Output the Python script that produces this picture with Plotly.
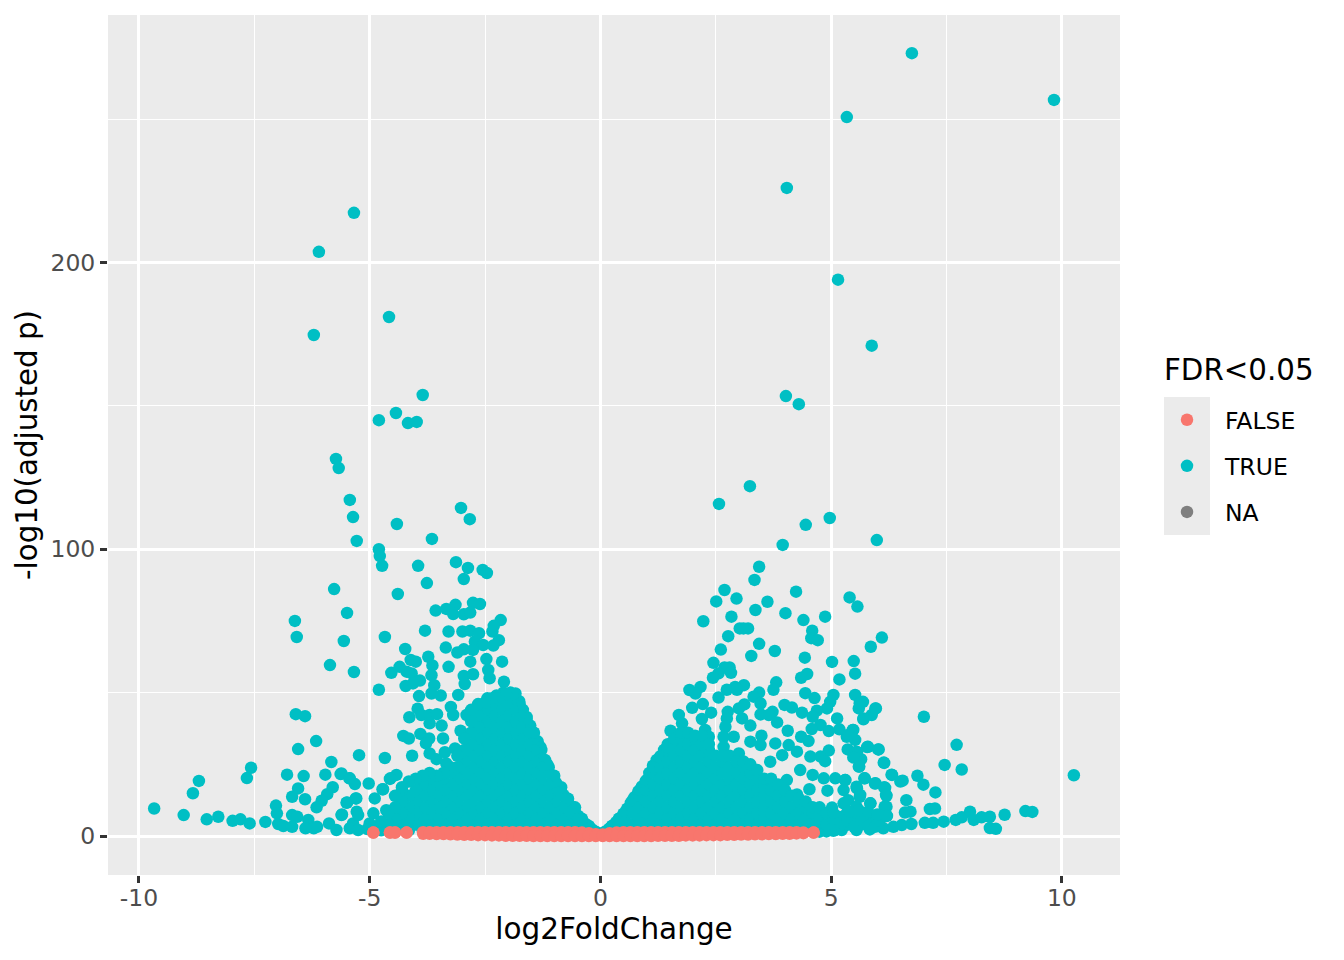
import plotly.graph_objects as go

# ---- values: (log2FoldChange, -log10 adjusted p) ----
true_right_scatter = [
(6.75,273),(9.83,256.7),(5.34,250.7),(4.04,226),(5.15,194),(5.88,171),(4.02,153.4),(4.30,150.6),
(3.24,122),(2.57,115.8),(4.97,110.9),(4.45,108.5),(5.99,103.2),(3.95,101.5),(3.44,93.9),(3.34,89.3),
(2.69,85.8),(2.51,81.8),(2.95,82.8),(4.24,85.2),(3.62,81.7),(5.40,83.2),(5.57,80),(3.36,78.8),(4.01,77.7),
(2.84,76.5),(2.23,74.9),(4.4,75.3),(4.87,76.5),(3.02,72.4),(3.2,72.4),(3.1,72.4),(4.59,71.6),(4.57,69),
(4.71,68.3),(2.77,69.7),(6.1,69.2),(5.86,66),(3.44,67),(2.61,65),(3.78,64.5),(3.27,62.8),(4.43,62.2),
(5.02,60.7),(5.49,61),(5.52,56.6),(2.45,60.4),(2.69,58.8),(2.8,58.8),(2.83,56.9),(2.56,56.7),(2.44,55.2),
(4.48,56.5),(4.35,55.2),(5.18,54.6),(3.81,53.6),(3.75,51),(3.11,52.6),(2.92,52),(2.74,51),(2.96,51),
(2.17,52),(2.06,49.7),(1.93,50.9),(3.44,50),(3.32,48.6),(2.56,48.3),(4.44,49.8),(4.64,48.1),(5.05,49.2),
(4.98,46.8),(4.91,44.5),(4.69,43.7),(4.6,41.6),(5.52,49.2),(5.69,46.8),(5.6,44.5),(5.97,44.5),(5.88,42.2),
(5.7,40.7),(2.22,46),(1.99,44.7),(1.7,42.2),(1.77,39.3),(2.4,43),(2.2,40.8),(3.12,45.9),(3,44.5),(2.76,43.3),
(2.74,41),(2.71,38.1),(3.47,46.2),(3.47,42.4),(3.73,43.3),(3.83,39.6),(3.65,42.2),(3.99,45.7),(4.15,44.8),
(4.37,43),(5.13,41),(4.77,38.7),(4.58,37.3),(4.95,36.6),(5.18,37.2),(5.47,37),(5.52,33.5),(5.34,34.6),
(3.07,41),(3.25,38.5),(3.49,35),(4.06,36.7),(1.52,36.7),(1.88,35.8),(2.27,37),(2.35,34.6),(4.35,34.6),
(4.51,33.1),(3.79,32.3),(4.08,31.7),(3.94,28.2),(4.26,29.4),(5.8,31.1),(6.03,30.2),(5.36,30.2),(5.56,29.2),
(5.65,26.8),(5.6,24.2),(6.15,25.5),(6.32,21.3),(6.5,19),(4.95,29.8),(4.77,27.7),(4.87,26.1),(4.55,27.7),
(4.33,23),(3.68,25.9),(3,28.8),(3.47,31.7),(2.89,34.6),(3.25,32.9),(2.67,34.6),(2.67,31.1),(1.52,31.7),
(4.6,21.3),(4.84,20.1),(5.09,20.1),(5.31,19.5),(5.73,20.1),(5.96,18.4),(6.17,16.8),(6.2,14),(6.2,10.2),
(6.21,7),(4.92,15.8),(5.27,16),(4.53,16.3),(4.26,14.5),(4.01,14),(4.04,19.5),(5.56,16.6),(5.85,11.4),
(5.63,14.3),(5.27,11.4),(5.02,9.9),(5.16,6.7),(5.78,6.1),(5.34,8),(4.48,9.1),(4.69,6.7),
(7.01,41.6),(7.72,31.8),(7.46,24.8),(7.83,23.2),(10.26,21.2),(5.96,44.5),(5.62,46.3),(5.7,41),(5.48,37),
(5.37,35.2),(5.78,31),(6.02,30.2),(5.55,29.4),(5.48,27.4),(5.61,24.2),(6.14,25.6),(6.31,21.4),(6.55,19.3),
(6.87,21),(7,17.9),(7.26,15.2),(5.72,20.1),(5.95,18.3),(5.3,19.5),(5.55,17.2),(6.15,17),(6.19,14.3),
(5.62,13.7),(6.63,12.5),(5.85,11.4),(6.16,10.2),(6.2,7),(5.37,12.5),(5.55,10.2),(6.6,8.2),(6.72,8.5),
(7.14,9.4),(7.25,9.6),(5.77,6.1),(5.48,5.6),(6.13,2.7),(6.35,3.2),(6.53,3.8),(6.74,4.2),(7.03,4.6),
(7.21,4.6),(7.44,5),(7.7,5.6),(7.83,6.5),(8.01,8.5),(8.09,5.6),(8.26,6.5),(8.44,6.7),(8.44,2.8),(8.57,2.5),
(8.76,7.4),(9.21,8.7),(9.36,8.4),(5.23,2.1),(5.55,2.1),(5.84,2.3),(5.33,3.8),(5.62,3.8),(5.91,4.4),
(5.1,2.2),(5.2,3.8),(5.35,5.5),(5.5,3.2),(5.65,5.5),(5.8,3.5),(5.95,3.2),(6.05,5.3),(5.4,8.5),(5.6,9),(5.8,8.5),(6.0,7.5),
]
true_left_scatter = [
(-5.34,217.3),(-6.1,203.7),(-6.21,174.7),(-4.58,181),(-3.85,153.8),(-4.43,147.5),(-4.8,145),(-4.17,144),
(-3.98,144.4),(-5.73,131.5),(-5.67,128.3),(-5.43,117.2),(-5.36,111.2),(-5.28,102.9),(-4.41,108.8),(-3.65,103.6),
(-3.02,114.4),(-2.83,110.5),(-4.8,100),(-4.78,97.6),(-4.73,94.2),(-3.13,95.5),(-2.87,93.5),(-2.55,92.8),
(-2.46,91.7),(-3.95,94.2),(-3.76,88.2),(-2.96,89.6),(-5.77,86.1),(-4.39,84.4),(-2.76,81.3),(-2.61,80.9),
(-5.49,77.8),(-6.62,75),(-6.58,69.4),(-5.56,68),(-4.67,69.4),(-5.86,59.6),(-5.34,57.2),(-6.6,42.5),(-6.4,41.8),
(-4.8,51),(-6.55,30.3),(-6.16,33.1),(-5.23,28.2),(-4.67,27.2),
(-3.57,78.6),(-3.34,79.2),(-3.14,80.6),(-3.19,77.4),(-2.96,77.3),(-2.82,77.9),(-2.16,75.3),(-2.31,73.3),
(-2.34,71.3),(-3.8,71.6),(-3.29,71.3),(-2.99,71.3),(-2.82,71.6),(-2.63,70.7),(-2.2,68.3),(-2.32,66.4),
(-2.72,67.8),(-2.54,66.6),(-2.76,64.9),(-4.23,65.2),(-3.35,65.7),(-3.1,64),(-2.96,65.1),(-3.73,62.5),
(-4.11,61.4),(-4,60.8),(-4.35,59),(-4.53,56.9),(-3.64,59.5),(-2.47,61.7),(-2.13,60.8),(-2.82,60.8),(-3.29,59),
(-4.2,57.3),(-4.09,56.7),(-3.91,54.2),(-4.22,52.3),(-4.06,53.2),(-3.66,56.1),(-3.6,52.6),(-3.66,49.7),
(-3.46,49),(-2.96,55.8),(-2.76,56.4),(-2.43,57.9),(-2.94,53),(-2.09,53.8),(-2.4,55),(-3.93,48.8),(-3.96,44.4),
(-4.14,41.4),(-3.88,42.2),(-3.7,42.2),(-3.54,42.5),(-3.7,39.3),(-3.44,38.5),(-3.24,45),(-3.19,42.2),(-3.08,49.2),
(-4.27,34.9),(-4.15,34),(-3.9,35.6),(-3.71,34),(-3.78,32.3),(-3.41,34),(-3.03,36.7),(-2.9,42.2),(-2.76,41.6),
(-3.7,28.8),(-3.37,29.2),(-3.55,26.8),(-3.34,25.3),(-3.15,30.5),(-4.08,28),(-4.42,21.3),(-4.55,20.1),(-5.02,18.3),
(-4.72,16.3),(-4.89,13.1),(-5.32,18.1),(-5.43,20.1),(-5.61,21.8),(-5.3,13.1),(-5.5,11.6),(-5.61,7.3),(-5.28,8.5),
(-4.92,7.9),(-4.49,8.5),(-5.36,4.4),
(-9.67,9.6),(-9.03,7.3),(-8.83,14.9),(-8.7,19.2),(-8.53,5.8),(-8.28,6.7),(-7.97,5.3),(-7.8,5.8),(-7.6,4.4),
(-7.66,20.2),(-7.57,23.8),(-7.26,4.9),(-7.03,10.6),(-7.01,7.9),(-6.98,4.2),(-6.87,3.5),(-6.68,7.3),(-6.57,6.7),
(-6.68,3.2),(-6.79,21.4),(-6.43,20.9),(-6.55,16.6),(-6.68,13.7),(-6.4,12.8),(-5.96,21.4),(-5.83,25.8),(-5.63,21.6),
(-5.44,20.1),(-5.8,17),(-5.92,14.6),(-6.04,12.3),(-6.15,10),(-5.49,11.7),(-5.29,13.1),(-4.71,16.3),(-4.56,19.9),
(-5.6,7.5),(-6.33,5.6),(-6.39,2.7),(-6.21,2.7),(-6.14,3.2),(-5.88,4.4),(-5.72,2.1),(-5.43,2.7),(-5.25,7.3),
(-5.25,2.1),(-5,4.4),(-4.64,9),(-5.05,2.4),(-4.85,3),(-4.75,5),
]
# smooth inner edges of the volcano
true_left_edge = [
(-0.1,1.5),(-0.18,2.3),(-0.25,3.2),(-0.32,4.2),(-0.4,5.5),(-0.48,7),(-0.56,8.8),(-0.64,10.5),(-0.72,12.4),
(-0.8,14.3),(-0.88,16.5),(-0.96,18.5),(-1.04,21),(-1.12,24),(-1.2,26.5),(-1.28,30),(-1.36,33),(-1.44,36),
(-1.52,38.5),(-1.6,41.5),(-1.68,44),(-1.76,47),(-1.84,49.7),(-1.95,50),(-2.1,50),(-2.25,49),(-2.45,48),
]
true_right_edge = [
(0.1,1.5),(0.18,2.4),(0.26,3.5),(0.34,4.8),(0.42,6.2),(0.5,7.8),(0.58,9.5),(0.66,11.5),(0.74,13.5),(0.82,15.5),
(0.9,17.3),(0.98,19),(1.06,22),(1.14,24.5),(1.22,26.5),(1.3,27.8),(1.38,30),(1.46,32),
]
# dense body of the volcano, read column by column
true_right_mass = [
(0.25,[2,3.5]),(0.40,[2,4,6]),(0.55,[2,5,8.5]),(0.70,[4,8,12.5]),(0.85,[2,6,10,14,16]),
(1.00,[4,8,12,16,19.5]),(1.15,[2,6,10,14,18,22,24]),(1.30,[4,8,12,16,20,24,27.5]),
(1.45,[2,6,10,14,18,22,26,30,31]),(1.60,[4,8,12,16,20,24,28,32,34]),
(1.75,[2,6,10,14,18,22,26,30,34,36]),(1.90,[4,8,12,16,20,24,28,32,36]),
(2.05,[2,6,10,14,18,22,26,30,34,35]),(2.20,[4,8,12,16,20,24,28,32,35]),
(2.35,[2,6,10,14,18,22,26,30,32]),(2.50,[4,8,12,16,20,24,28]),(2.65,[2,6,10,14,18,22,26,28]),
(2.80,[4,8,12,16,20,24,28]),(2.95,[2,6,10,14,18,22,26]),(3.10,[4,8,12,16,20,24,26]),
(3.25,[2,6,10,14,18,22,25]),(3.40,[4,8,12,16,20,23]),(3.55,[2,6,10,14,18,20]),
(3.70,[4,8,12,16,20]),(3.85,[2,6,10,14,18]),(4.00,[4,8,12,16]),(4.15,[2,6,10,14]),
(4.30,[4,8,12,13]),(4.45,[2,6,10,12]),(4.60,[2,4.5,8,10]),(4.75,[1.5,4,7,10]),(4.90,[1.6,4,8]),(5.05,[1.8,4,6,8]),
]
true_left_mass = [
(-0.25,[2,3.5]),(-0.40,[2,4,6]),(-0.55,[2,6,10]),(-0.70,[4,8,13]),(-0.85,[2,6,10,14,17]),
(-1.00,[4,8,12,16,19,21]),(-1.15,[2,6,10,14,18,22,25]),(-1.30,[4,8,12,16,20,24,28,31]),
(-1.45,[2,6,10,14,18,22,26,30,34,36]),(-1.60,[4,8,12,16,20,24,28,32,36,40,41]),
(-1.75,[2,6,10,14,18,22,26,30,34,38,42,46]),(-1.90,[4,8,12,16,20,24,28,32,36,40,44,48,49.5]),
(-2.05,[2,6,10,14,18,22,26,30,34,38,42,46,49.5]),(-2.20,[4,8,12,16,20,24,28,32,36,40,44,48]),
(-2.35,[2,6,10,14,18,22,26,30,34,38,42,46,48]),(-2.50,[4,8,12,16,20,24,28,32,36,40,44,46.5]),
(-2.65,[2,6,10,14,18,22,26,30,34,38,42,46]),(-2.80,[4,8,12,16,20,24,28,32,36,40,44]),
(-2.95,[2,6,10,14,18,22,26,30,34]),(-3.10,[4,8,12,16,20,24,28]),(-3.25,[2,6,10,14,18,22,24]),
(-3.40,[4,8,12,16,20,22]),(-3.55,[2,6,10,14,18,21]),(-3.70,[4,8,12,16,20,22]),(-3.85,[2,6,10,14,18,21]),
(-4.00,[4,8,12,16,20]),(-4.15,[2,6,10,14,19]),(-4.30,[4,8,12,16,17]),(-4.45,[2,6,10,14]),
(-4.60,[4,8]),(-4.75,[2,5]),
]
false_x = [-4.92,-4.56,-4.45,-4.2,-3.84,-3.7,-3.55,-3.4,-3.25,-3.1,-2.95,-2.8,-2.65,-2.5,-2.35,-2.2,-2.05,-1.9,
-1.75,-1.6,-1.45,-1.3,-1.15,-1.0,-0.85,-0.7,-0.55,-0.4,-0.25,-0.1,0.05,0.2,0.35,0.5,0.65,0.8,0.95,1.1,1.25,1.4,
1.55,1.7,1.85,2.0,2.15,2.3,2.45,2.6,2.75,2.9,3.05,3.2,3.35,3.5,3.65,3.8,3.95,4.1,4.25,4.4,4.62]
false_y_upper = [1.2,1.2,1.2,1.2,1.3,1.3,1.3,1.3,1.3,1.3,1.3,1.3,1.3,1.3,1.3,1.3,1.3,1.3,
1.3,1.3,1.3,1.3,1.3,1.3,1.3,1.3,1.3,1.2,1.0,0.6,0.5,1.0,1.2,1.3,1.3,1.3,1.3,1.3,1.3,1.3,
1.3,1.3,1.3,1.3,1.3,1.3,1.3,1.3,1.3,1.3,1.3,1.3,1.3,1.3,1.3,1.3,1.3,1.3,1.3,1.2,1.2]
false_y_lower = [1.2,1.2,1.2,1.2,0.8,0.8,0.7,0.7,0.6,0.5,0.4,0.4,0.3,0.3,0.2,0.2,0.1,0.1,
0.1,0.1,0,0,0,0,0,0,0,0,0,0,0,0,0,0,0,0,0,0,0.1,0.1,
0.1,0.1,0.2,0.2,0.2,0.3,0.3,0.3,0.4,0.4,0.5,0.5,0.6,0.6,0.7,0.7,0.8,0.8,0.9,1.0,1.2]
na_x = [None]
na_y = [None]

x_ticks = [-10,-5,0,5,10]
y_ticks = [0,100,200]
legend_title = "FDR<0.05"

# ---- assemble ----
tx, ty = [], []
for pts in (true_right_scatter, true_left_scatter, true_left_edge, true_right_edge):
    tx += [p[0] for p in pts]; ty += [p[1] for p in pts]
for cols in (true_right_mass, true_left_mass):
    for cx, ys in cols:
        tx += [cx]*len(ys); ty += ys

MS = 12.5
FONT = "DejaVu Sans"
fig = go.Figure()
fig.add_trace(go.Scatter(x=tx, y=ty, mode="markers", name="TRUE", legendgroup="t", legendrank=2,
                         marker=dict(color="#00BFC4", size=MS, line=dict(width=0)), hoverinfo="skip"))
fig.add_trace(go.Scatter(x=false_x+false_x, y=false_y_upper+false_y_lower, mode="markers", name="FALSE",
                         legendgroup="f", legendrank=1,
                         marker=dict(color="#F8766D", size=MS, line=dict(width=0)), hoverinfo="skip"))
fig.add_trace(go.Scatter(x=na_x, y=na_y, mode="markers", name="NA", legendgroup="n", legendrank=3,
                         marker=dict(color="#7F7F7F", size=MS, line=dict(width=0)), hoverinfo="skip"))

L, R, T, B = 108, 1120, 15, 875
px = lambda v: (v-L)/(R-L)
py = lambda v: (B-v)/(B-T)
fig.add_shape(type="rect", xref="paper", yref="paper", x0=px(1164), x1=px(1210), y0=py(535), y1=py(397),
              fillcolor="#EBEBEB", line=dict(width=0), layer="below")
fig.add_annotation(xref="paper", yref="paper", x=px(1162), y=py(370), xanchor="left", yanchor="middle",
                   text=legend_title, showarrow=False,
                   font=dict(family=FONT, size=29.3, color="black"))

axis_common = dict(showline=False, zeroline=False, showgrid=True, gridcolor="white", gridwidth=2.7,
                   ticks="outside", ticklen=7, tickwidth=2.7, tickcolor="#333333",
                   tickfont=dict(family=FONT, size=23.5, color="#4D4D4D"))
fig.update_xaxes(range=[-10.67,11.26], tickvals=x_ticks, ticktext=[str(v) for v in x_ticks],
                 ticklabelstandoff=-5,
                 title=dict(text="log2FoldChange", font=dict(family=FONT, size=29.5, color="black"), standoff=4),
                 minor=dict(tickvals=[-7.5,-2.5,2.5,7.5], showgrid=True, gridcolor="white", gridwidth=1.4, ticks=""),
                 **axis_common)
fig.update_yaxes(range=[-13.6,286.3], tickvals=y_ticks, ticktext=[str(v) for v in y_ticks],
                 title=dict(text="-log10(adjusted p)", font=dict(family=FONT, size=29.3, color="black"), standoff=4),
                 minor=dict(tickvals=[50,150,250], showgrid=True, gridcolor="white", gridwidth=1.4, ticks=""),
                 **axis_common)
fig.update_layout(
    width=1344, height=960, autosize=False,
    margin=dict(l=L, r=1344-R, t=T, b=960-B, pad=0),
    plot_bgcolor="#EBEBEB", paper_bgcolor="white",
    font=dict(family=FONT),
    legend=dict(x=px(1161), y=py(398), xanchor="left", yanchor="top",
                bgcolor="rgba(0,0,0,0)", borderwidth=0,
                font=dict(family=FONT, size=23.5, color="black"),
                tracegroupgap=12.5, itemwidth=66, indentation=-12, traceorder="grouped"),
)
fig.write_html("out.html", config={"displayModeBar": False}, post_script="document.body.style.margin='0';")
